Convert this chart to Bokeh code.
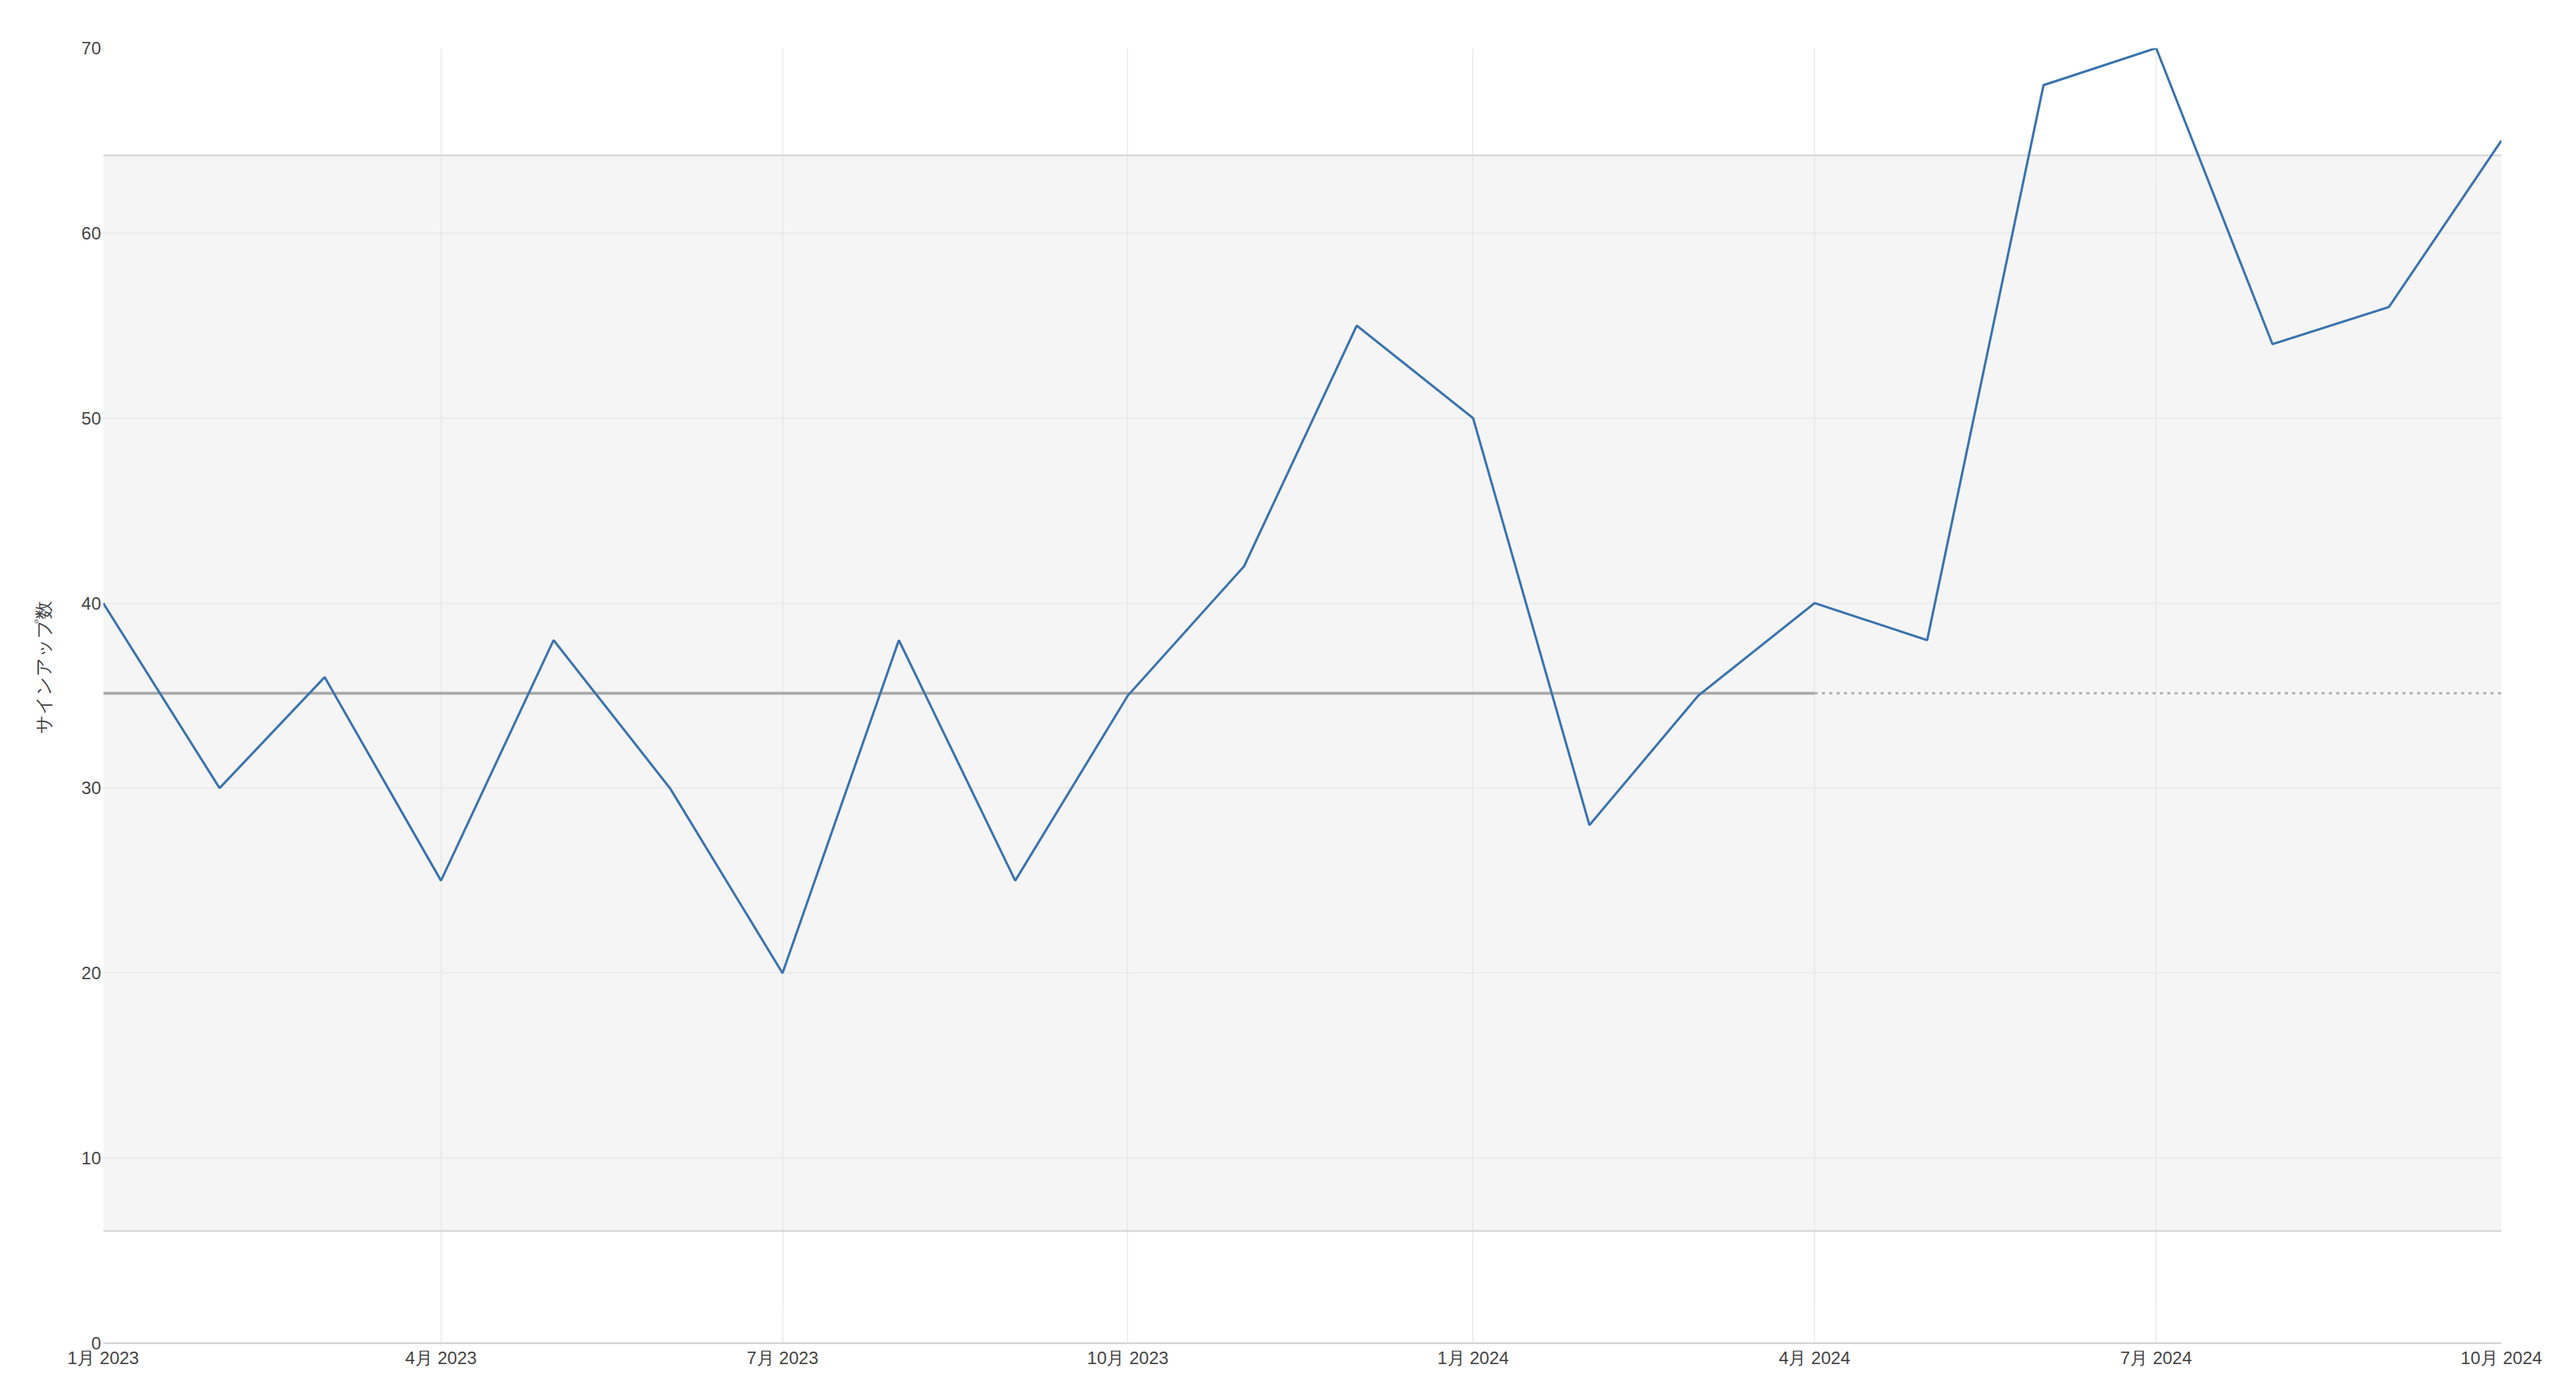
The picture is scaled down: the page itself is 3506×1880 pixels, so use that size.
from datetime import datetime
from bokeh.plotting import figure
from bokeh.models import Range1d, FixedTicker, CustomJSTickFormatter, ColumnDataSource, Title
from bokeh.embed import file_html
from bokeh.resources import INLINE

# ---- data ----
months = ["2023-01", "2023-02", "2023-03", "2023-04", "2023-05", "2023-06",
          "2023-07", "2023-08", "2023-09", "2023-10", "2023-11", "2023-12",
          "2024-01", "2024-02", "2024-03", "2024-04", "2024-05", "2024-06",
          "2024-07", "2024-08", "2024-09", "2024-10"]
signups = [40, 30, 36, 25, 38, 30, 20, 38, 25, 35, 42, 55,
           50, 28, 35, 40, 38, 68, 70, 54, 56, 65]
tick_months = ["2023-01", "2023-04", "2023-07", "2023-10",
               "2024-01", "2024-04", "2024-07", "2024-10"]
baseline_count = 15          # points used for the limits (Jan 2023 - Mar 2024)
baseline_end = "2024-04"     # solid centre line ends here, dotted afterwards
y_ticks = [0, 10, 20, 30, 40, 50, 60, 70]
y_label = "サインアップ数"

# ---- process-behaviour limits (XmR) from baseline ----
base = signups[:baseline_count]
centre = sum(base) / len(base)
mr = [abs(base[i] - base[i - 1]) for i in range(1, len(base))]
mr_bar = sum(mr) / len(mr)
upper = centre + 2.66 * mr_bar
lower = centre - 2.66 * mr_bar

to_dt = lambda s: datetime.strptime(s, "%Y-%m")
xs = [to_dt(m) for m in months]
x0, x1 = xs[0], xs[-1]
xb = to_dt(baseline_end)

FONT = "Liberation Sans"
TXT = "#444444"

p = figure(width=3500, height=1875, x_axis_type="datetime",
           output_backend="svg", toolbar_location=None,
           x_range=Range1d(x0, x1), y_range=Range1d(0, 70),
           min_border_left=140, min_border_right=96,
           min_border_top=65, min_border_bottom=47)
p.outline_line_color = None
p.background_fill_color = "white"

# band between limits
p.varea(x=[x0, x1], y1=[lower, lower], y2=[upper, upper],
        fill_color="#f5f5f5", level="image")
p.line([x0, x1], [upper, upper], line_color="#d9d9d9", line_width=2.5)
p.line([x0, x1], [lower, lower], line_color="#d9d9d9", line_width=2.5)

# centre line
p.line([x0, xb], [centre, centre], line_color="#aaaaaa", line_width=4)
p.line([xb, x1], [centre, centre], line_color="#aaaaaa", line_width=3,
       line_dash="4 6")

# series
src = ColumnDataSource(dict(x=xs, y=signups))
p.line("x", "y", source=src, line_color="#3a73ae", line_width=3.2)

# grids
tick_ms = [to_dt(m).timestamp() * 1000 for m in tick_months]
p.xgrid.ticker = FixedTicker(ticks=tick_ms)
p.ygrid.ticker = FixedTicker(ticks=y_ticks)
p.xgrid.grid_line_color = "#e8e8e8"
p.ygrid.grid_line_color = "#e8e8e8"
p.xgrid.grid_line_width = 1.5
p.ygrid.grid_line_width = 1.5

# x axis
xa = p.xaxis[0]
xa.ticker = FixedTicker(ticks=tick_ms)
xa.formatter = CustomJSTickFormatter(code="""
const d = new Date(tick);
return (d.getUTCMonth() + 1) + "月 " + d.getUTCFullYear();
""")
xa.axis_line_color = "#cccccc"
xa.axis_line_width = 2
xa.major_tick_line_color = None
xa.minor_tick_line_color = None
xa.major_tick_out = 0
xa.major_label_standoff = 6
xa.major_label_text_font = FONT
xa.major_label_text_font_size = "24px"
xa.major_label_text_color = TXT

# y axis
ya = p.yaxis[0]
ya.ticker = FixedTicker(ticks=y_ticks)
ya.axis_line_color = None
ya.major_tick_line_color = None
ya.minor_tick_line_color = None
ya.major_tick_out = 0
ya.major_label_standoff = 3
ya.major_label_text_font = FONT
ya.major_label_text_font_size = "24px"
ya.major_label_text_color = TXT

# y-axis title as a left-side title, anchored from the frame bottom
p.add_layout(Title(text=y_label, align="left", offset=830, standoff=70,
                   text_font=FONT, text_font_size="25px",
                   text_font_style="normal", text_color=TXT), "left")

open("out.html", "w").write(file_html(p, INLINE))
